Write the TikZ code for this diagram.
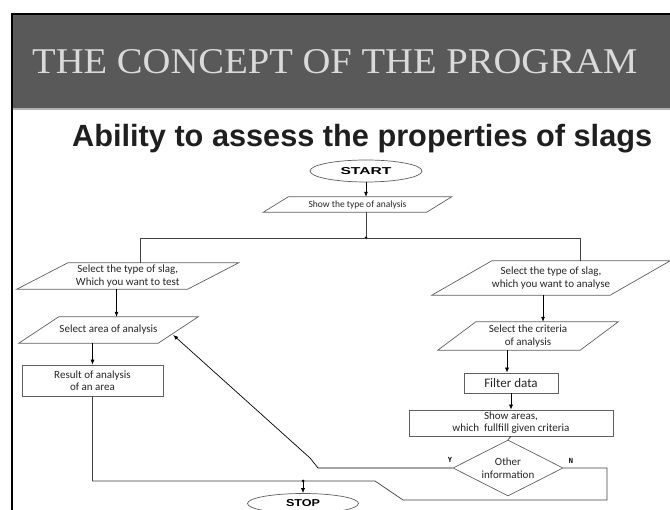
\documentclass[tikz,border=0pt]{standalone}
\usepackage{fontspec}
\setmainfont{Carlito}
\newfontfamily\titlefont{Liberation Serif}
\newfontfamily\subfont{Liberation Sans}
\newfontfamily\ynfont{DejaVu Sans Mono}
\usetikzlibrary{shapes.geometric,arrows.meta,calc}
\definecolor{hdr}{HTML}{595959}
\definecolor{ttl}{HTML}{DADADA}
\definecolor{shp}{HTML}{606060}
\definecolor{cnn}{HTML}{404040}
\tikzset{
  shapeline/.style={draw=shp, line width=0.7pt},
  conn/.style={draw=cnn, line width=0.7pt},
  arr/.style={draw=black, line width=0.7pt, -{Latex[length=5pt,width=4pt]}},
  txt/.style={inner sep=0pt, align=center, font=\fontsize{11}{12.5}\selectfont, text=black!85},
  paranode/.style={txt},
  boxnode/.style={txt, shapeline, rectangle},
  termnode/.style={shapeline, ellipse, inner sep=0pt, minimum width=112pt, minimum height=22pt},
  decnode/.style={txt, shapeline, diamond, aspect=1.9, minimum width=110pt, minimum height=56pt},
  ynlabel/.style={inner sep=0pt, font=\ynfont\bfseries\fontsize{7}{7}\selectfont}
}
\newcommand\drawpara[2]{\draw[shapeline] ([xshift=-#2/2]#1.south west) -- ([xshift=#2/2]#1.north west) -- ([xshift=#2/2]#1.north east) -- ([xshift=-#2/2]#1.south east) -- cycle;}
\begin{document}
\begin{tikzpicture}[x=1pt,y=-1pt]
\useasboundingbox (0,0) rectangle (670,510);
\clip (0,0) rectangle (670,510);
\fill[white] (0,0) rectangle (670,510);
% header
\fill[hdr] (12,14) rectangle (670,108);
\draw[line width=1.5pt, black!30] (13,109) -- (670,109);
\draw[black, line width=2pt] (12,512) -- (12,14) -- (672,14);
\node[anchor=base west, inner sep=0pt, text=ttl] (title) at (32,74) {\resizebox{605pt}{24pt}{\titlefont THE CONCEPT OF THE PROGRAM}};
\node[anchor=base west, inner sep=0pt, text=black!88] (sub) at (72,147) {\resizebox{580pt}{!}{\subfont\bfseries Ability to assess the properties of slags}};
% nodes
\node[termnode] (start) at (366,171) {\resizebox{51pt}{7pt}{\subfont\bfseries START}};
\node[paranode, minimum width=163pt, minimum height=15pt, font=\fontsize{9.5}{11}\selectfont] (show) at (357.5,204.5) {Show the type of analysis};
\node[paranode, minimum width=170.5pt, minimum height=26pt] (p1) at (127.75,276) {Select the type of slag,\\Which you want to test};
\node[paranode, minimum width=139pt, minimum height=26pt] (p2) at (108.5,330) {Select area of analysis};
\node[boxnode, minimum width=141pt, minimum height=31pt] (res) at (92.5,380.5) {Result of analysis\\of an area};
\node[paranode, minimum width=178pt, minimum height=34pt] (p3) at (551,278) {Select the type of slag,\\ which you want to analyse};
\node[paranode, minimum width=142pt, minimum height=28pt] (p4) at (528,336) {Select the criteria\\ of analysis};
\node[boxnode, minimum width=94pt, minimum height=20pt, font=\fontsize{13}{14}\selectfont] (flt) at (511,383) {Filter data};
\node[boxnode, minimum width=204pt, minimum height=26pt, font=\fontsize{11}{12}\selectfont] (shw) at (511,423) {Show areas,\\which\ \ fullfill given criteria};
\node[decnode] (dia) at (508,468) {Other\\information};
\node[termnode, minimum width=111pt, minimum height=20pt] (stop) at (303,503.5) {\resizebox{34pt}{7pt}{\subfont\bfseries STOP}};
\node[ynlabel] (ylab) at (450,460) {Y};
\node[ynlabel] (nlab) at (571,461) {N};
% parallelogram outlines
\drawpara{show}{25}
\drawpara{p1}{51}
\drawpara{p2}{40}
\drawpara{p3}{60}
\drawpara{p4}{38}
% connectors
\coordinate (J) at (366,238);
\coordinate (cL) at (140,238);
\coordinate (cR) at (580,238);
\draw[arr] (start.south) -- (start.south |- show.north);
\draw[conn] (start.south |- show.south) -- (J);
\fill[black] (J) circle (1.5pt);
\draw[conn] (p1.north -| cL) -- (cL) -- (cR) -- (p3.north -| cR);
\coordinate (a1) at ([xshift=8pt]p2.north);
\draw[arr] (p1.south -| a1) -- (a1);
\draw[arr] (p2.south -| res.north) -- (res.north);
\coordinate (a3) at ([xshift=15pt]p4.north);
\draw[arr] (p3.south -| a3) -- (a3);
\coordinate (a4) at ([xshift=-4pt]flt.north);
\draw[arr] (p4.south -| a4) -- (a4);
\draw[arr] (flt.south) -- (shw.north);
\draw[conn] (shw.south) -- (dia.north);
% Y branch back to area selection
\coordinate (y1) at (318,468);
\coordinate (y2) at (310,458);
\coordinate (y3) at ([xshift=-5pt,yshift=-5pt]p2.east);
\draw[arr] (dia.west) -- (y1) -- (y2) -- (y3);
% N branch and result to STOP
\coordinate (b1) at (375,481);
\coordinate (b2) at (403,500);
\coordinate (b3) at (607,500);
\draw[conn] (res.south) |- (b1) -- (b2) -- (b3) |- (dia.east);
\coordinate (sj) at (stop.north |- b1);
\fill[black] (sj) circle (1.5pt);
\draw[arr] (sj) -- (stop.north);
\end{tikzpicture}
\end{document}
